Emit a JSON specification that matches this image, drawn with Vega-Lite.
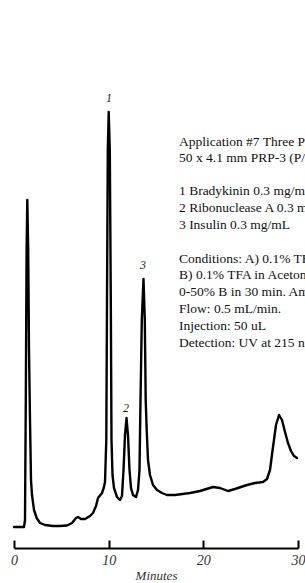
{
  "$schema": "https://vega.github.io/schema/vega-lite/v6.json",
  "autosize": "none",
  "width": 284,
  "height": 458,
  "padding": {"left": 14, "top": 90, "right": 7, "bottom": 35},
  "background": "white",
  "config": {"view": {"stroke": null}},
  "datasets": {
    "trace": [
      {"t": 0, "v": 21}, {"t": 1.056, "v": 21}, {"t": 1.162, "v": 28}, {"t": 1.246, "v": 148},
      {"t": 1.331, "v": 298}, {"t": 1.405, "v": 348}, {"t": 1.5, "v": 298}, {"t": 1.585, "v": 198},
      {"t": 1.69, "v": 128}, {"t": 1.796, "v": 68}, {"t": 1.901, "v": 53}, {"t": 2.113, "v": 38},
      {"t": 2.398, "v": 30}, {"t": 2.746, "v": 25}, {"t": 3.275, "v": 23}, {"t": 4.12, "v": 22},
      {"t": 4.859, "v": 22}, {"t": 5.599, "v": 22.5}, {"t": 6.127, "v": 25}, {"t": 6.549, "v": 30},
      {"t": 6.761, "v": 31}, {"t": 7.077, "v": 29}, {"t": 7.5, "v": 29}, {"t": 8.028, "v": 32},
      {"t": 8.345, "v": 35}, {"t": 8.662, "v": 42}, {"t": 8.873, "v": 50}, {"t": 9.296, "v": 55},
      {"t": 9.507, "v": 61}, {"t": 9.613, "v": 66}, {"t": 9.75, "v": 108}, {"t": 9.824, "v": 248},
      {"t": 9.908, "v": 398}, {"t": 10.004, "v": 436}, {"t": 10.12, "v": 398}, {"t": 10.225, "v": 248},
      {"t": 10.299, "v": 108}, {"t": 10.405, "v": 73}, {"t": 10.563, "v": 60}, {"t": 10.88, "v": 51},
      {"t": 11.197, "v": 48}, {"t": 11.408, "v": 52}, {"t": 11.567, "v": 78}, {"t": 11.725, "v": 113},
      {"t": 11.884, "v": 130}, {"t": 12.042, "v": 113}, {"t": 12.2, "v": 78}, {"t": 12.359, "v": 60},
      {"t": 12.57, "v": 53}, {"t": 12.887, "v": 51}, {"t": 13.099, "v": 58}, {"t": 13.257, "v": 78},
      {"t": 13.363, "v": 148}, {"t": 13.5, "v": 228}, {"t": 13.68, "v": 269}, {"t": 13.817, "v": 228},
      {"t": 13.912, "v": 148}, {"t": 14.018, "v": 118}, {"t": 14.155, "v": 88}, {"t": 14.366, "v": 73},
      {"t": 14.683, "v": 63}, {"t": 15.106, "v": 58}, {"t": 15.634, "v": 55}, {"t": 16.162, "v": 53},
      {"t": 17.007, "v": 53}, {"t": 18.592, "v": 55}, {"t": 19.648, "v": 57}, {"t": 21.021, "v": 61},
      {"t": 21.761, "v": 60}, {"t": 22.606, "v": 57}, {"t": 23.345, "v": 59}, {"t": 24.613, "v": 63},
      {"t": 25.458, "v": 65}, {"t": 26.303, "v": 66}, {"t": 26.725, "v": 69}, {"t": 27.042, "v": 78},
      {"t": 27.359, "v": 101}, {"t": 27.676, "v": 123}, {"t": 27.993, "v": 133}, {"t": 28.31, "v": 128},
      {"t": 28.627, "v": 116}, {"t": 28.944, "v": 105}, {"t": 29.261, "v": 97}, {"t": 29.577, "v": 92},
      {"t": 29.894, "v": 90}
    ],
    "notes": [
      {"t": 17.43, "v": 406, "text": "Application #7 Three Peptides"},
      {"t": 17.43, "v": 390, "text": "50 x 4.1 mm PRP-3 (P/N 79574)"},
      {"t": 17.43, "v": 357, "text": "1 Bradykinin 0.3 mg/mL"},
      {"t": 17.43, "v": 340, "text": "2 Ribonuclease A 0.3 mg/mL"},
      {"t": 17.43, "v": 323, "text": "3 Insulin 0.3 mg/mL"},
      {"t": 17.43, "v": 289, "text": "Conditions: A) 0.1% TFA in Water"},
      {"t": 17.43, "v": 273, "text": "B) 0.1% TFA in Acetonitrile"},
      {"t": 17.43, "v": 256, "text": "0-50% B in 30 min. Ambient"},
      {"t": 17.43, "v": 239, "text": "Flow: 0.5 mL/min."},
      {"t": 17.43, "v": 222, "text": "Injection: 50 uL"},
      {"t": 17.43, "v": 205, "text": "Detection: UV at 215 nm"}
    ],
    "peaks": [
      {"t": 10.03, "v": 450, "text": "1"},
      {"t": 11.83, "v": 140, "text": "2"},
      {"t": 13.63, "v": 283, "text": "3"}
    ]
  },
  "layer": [
    {
      "data": {"name": "trace"},
      "mark": {"type": "line", "color": "black", "strokeWidth": 2.4, "strokeJoin": "round", "strokeCap": "round"},
      "encoding": {
        "x": {
          "field": "t", "type": "quantitative",
          "scale": {"domain": [0, 30], "nice": false, "zero": false},
          "axis": {
            "values": [0, 10, 20, 30],
            "grid": false,
            "domainColor": "black", "domainWidth": 2,
            "tickColor": "black", "tickWidth": 2, "tickSize": -8,
            "labelFont": "Liberation Serif", "labelFontStyle": "italic", "labelFontSize": 14,
            "labelColor": "#333", "labelPadding": 13, "labelFlush": false,
            "title": "Minutes",
            "titleFont": "Liberation Serif", "titleFontStyle": "italic", "titleFontWeight": "normal",
            "titleFontSize": 13, "titleColor": "#333", "titlePadding": 2
          }
        },
        "y": {
          "field": "v", "type": "quantitative",
          "scale": {"domain": [0, 458], "nice": false, "zero": false},
          "axis": null
        },
        "order": {"field": "t", "type": "quantitative"}
      }
    },
    {
      "data": {"name": "notes"},
      "mark": {"type": "text", "align": "left", "baseline": "middle", "font": "Liberation Serif", "fontSize": 13.5, "color": "#111"},
      "encoding": {
        "x": {"field": "t", "type": "quantitative"},
        "y": {"field": "v", "type": "quantitative"},
        "text": {"field": "text"}
      }
    },
    {
      "data": {"name": "peaks"},
      "mark": {"type": "text", "align": "center", "baseline": "middle", "font": "Liberation Serif", "fontStyle": "italic", "fontSize": 12, "color": "#222"},
      "encoding": {
        "x": {"field": "t", "type": "quantitative"},
        "y": {"field": "v", "type": "quantitative"},
        "text": {"field": "text"}
      }
    }
  ]
}
